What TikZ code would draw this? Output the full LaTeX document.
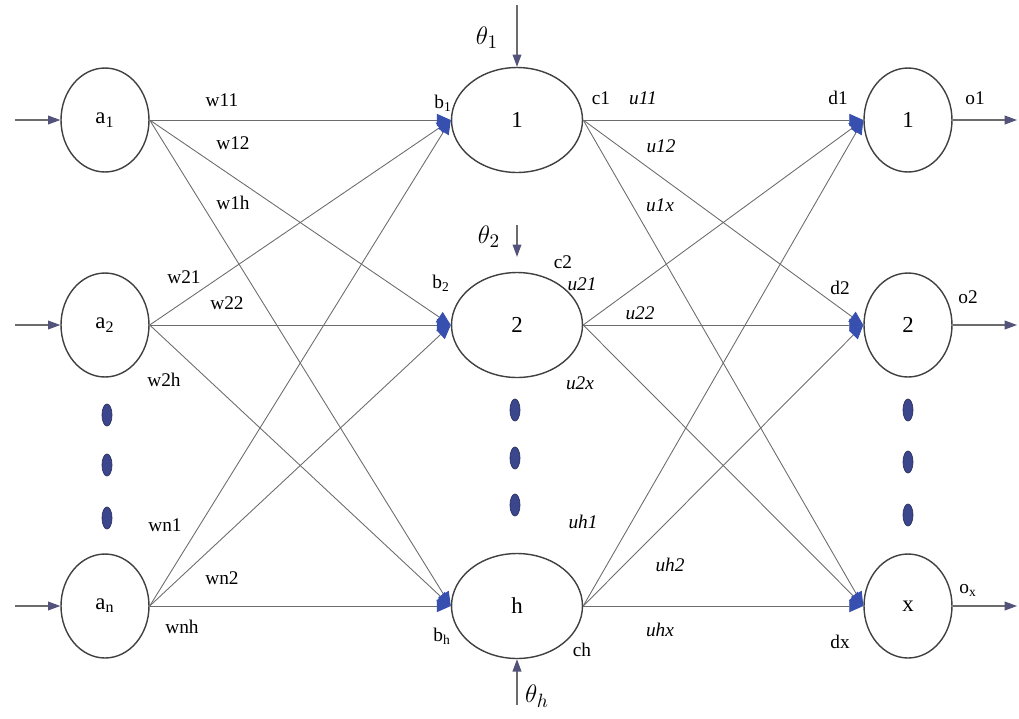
\documentclass[tikz,border=0pt]{standalone}
\usepackage{fontspec}
\setmainfont{Liberation Serif}
\usepackage{amsmath}
\usetikzlibrary{shapes.geometric}
\usetikzlibrary{arrows.meta}
\usetikzlibrary{positioning}
\definecolor{tipblue}{RGB}{55,80,175}
\definecolor{dotblue}{RGB}{60,70,140}

\begin{document}
\begin{tikzpicture}[x=0.02cm, y=-0.02cm,
  neuron/.style={draw, ellipse, thick, black!75, text=black, minimum width=1.76cm, minimum height=2.08cm, inner sep=0pt, font=\fontsize{13}{15}\selectfont},
  hidden/.style={neuron, minimum width=2.62cm, minimum height=2.1cm},
  link/.style={gray!85!black, line width=0.5pt, -{Triangle[length=8pt,width=7pt,color=tipblue,fill=tipblue]}},
  feed/.style={gray!85!black, line width=0.6pt, -{Triangle[length=7pt,width=5pt,color=blue!20!gray!80!black,fill=blue!20!gray!80!black]}},
  wlabel/.style={inner sep=1pt, font=\fontsize{11}{13}\selectfont},
  ulabel/.style={inner sep=1pt, font=\fontsize{11}{13}\selectfont\itshape},
  biaslabel/.style={inner sep=1pt, font=\fontsize{15}{17}\selectfont}]
\useasboundingbox (0,0) rectangle (1019,718);

% input layer
\node[neuron] (InA1) at (105,120) {a\textsubscript{1}};
\node[neuron] (InA2) at (105,325) {a\textsubscript{2}};
\node[neuron] (InAn) at (105,606) {a\textsubscript{n}};

% hidden layer
\node[hidden] (Hid1) at (517,120) {1};
\node[hidden] (Hid2) at (517,325) {2};
\node[hidden] (HidH) at (517,606) {h};

% output layer
\node[neuron] (Out1) at (908,120) {1};
\node[neuron] (Out2) at (908,325) {2};
\node[neuron] (OutX) at (908,606) {x};

% inputs and outputs
\coordinate (Feed1) at (15,120);
\coordinate (Feed2) at (15,325);
\coordinate (FeedN) at (15,606);
\draw[feed] (Feed1) -- (InA1);
\draw[feed] (Feed2) -- (InA2);
\draw[feed] (FeedN) -- (InAn);
\coordinate (End1) at (1017,120);
\coordinate (End2) at (1017,325);
\coordinate (EndX) at (1017,606);
\draw[feed] (Out1) -- (End1);
\draw[feed] (Out2) -- (End2);
\draw[feed] (OutX) -- (EndX);

% weights
\foreach \i in {InA1,InA2,InAn}
  \foreach \j in {Hid1,Hid2,HidH}
    \draw[link] (\i.east) -- (\j.west);
\foreach \i in {Hid1,Hid2,HidH}
  \foreach \j in {Out1,Out2,OutX}
    \draw[link] (\i.east) -- (\j.west);

% thresholds
\coordinate (Bias1) at (517,5);
\coordinate (Bias2) at (517,225);
\coordinate (BiasH) at (517,705);
\draw[feed] (Bias1) -- (Hid1.north);
\draw[feed, shorten >=0.3cm] (Bias2) -- (Hid2.north);
\draw[feed] (BiasH) -- (HidH.south);
\node[biaslabel] (Theta1) at (487,38) {$\theta_1$};
\node[biaslabel] (Theta2) at (489,237) {$\theta_2$};
\node[biaslabel] (ThetaH) at (537,696) {$\theta_h$};

% ellipsis dots
\foreach \x/\ya/\yb/\yc in {107/415/465/518, 515/410/458/505, 908/410/462/515}
  \foreach \y in {\ya,\yb,\yc}
    \filldraw[draw=dotblue!70!black, fill=dotblue] (\x,\y) ellipse (5 and 11);

% labels on the input side
\node[wlabel] (Lw11) at (222,100) {w11};
\node[wlabel] (Lw12) at (233,143) {w12};
\node[wlabel] (Lw1h) at (233,203) {w1h};
\node[wlabel] (Lw21) at (184,277) {w21};
\node[wlabel] (Lw22) at (227,303) {w22};
\node[wlabel] (Lw2h) at (164,380) {w2h};
\node[wlabel] (Lwn1) at (165,525) {wn1};
\node[wlabel] (Lwn2) at (222,578) {wn2};
\node[wlabel] (Lwnh) at (182,627) {wnh};
\node[wlabel] (Lb1) at (443,103) {b\textsubscript{1}};
\node[wlabel] (Lb2) at (441,283) {b\textsubscript{2}};
\node[wlabel] (Lbh) at (442,636) {b\textsubscript{h}};

% labels on the output side
\node[wlabel] (Lc1) at (601,98) {c1};
\node[wlabel] (Lc2) at (563,262) {c2};
\node[wlabel] (Lch) at (582,650) {ch};
\node[ulabel] (Lu11) at (643,98) {u11};
\node[ulabel] (Lu12) at (661,146) {u12};
\node[ulabel] (Lu1x) at (660,205) {u1x};
\node[ulabel] (Lu21) at (582,284) {u21};
\node[ulabel] (Lu22) at (640,313) {u22};
\node[ulabel] (Lu2x) at (580,383) {u2x};
\node[ulabel] (Luh1) at (583,522) {uh1};
\node[ulabel] (Luh2) at (670,565) {uh2};
\node[ulabel] (Luhx) at (660,630) {uhx};
\node[wlabel] (Ld1) at (838,98) {d1};
\node[wlabel] (Ld2) at (840,288) {d2};
\node[wlabel] (Ldx) at (840,642) {dx};
\node[wlabel] (Lo1) at (975,98) {o1};
\node[wlabel] (Lo2) at (968,297) {o2};
\node[wlabel] (Lox) at (968,590) {o\textsubscript{x}};
\end{tikzpicture}
\end{document}
